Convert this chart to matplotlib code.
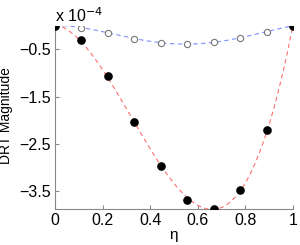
import numpy as np
import matplotlib
matplotlib.use("Agg")
import matplotlib.pyplot as plt

plt.rcParams['font.family'] = ['Liberation Sans', 'DejaVu Sans']

# values in units of 1e-4
eta = np.linspace(0, 1, 10)
drt_full = [0.0, -0.31, -1.07, -2.04, -2.97, -3.67, -3.88, -3.46, -2.21, 0.0]
drt_open = [0.0, -0.04, -0.15, -0.27, -0.36, -0.39, -0.35, -0.25, -0.13, 0.0]

x_ticks = [0, 0.2, 0.4, 0.6, 0.8, 1]
y_ticks = [-0.5, -1.5, -2.5, -3.5]

fig = plt.figure(figsize=(3.0, 2.45), dpi=100)
ax = fig.add_axes([0.183, 0.147, 0.794, 0.748])

# smooth fitted curves through the samples
xs = np.linspace(0, 1, 200)
fit_full = np.polyval(np.polyfit(eta, drt_full, 3), xs)
fit_open = np.polyval(np.polyfit(eta, drt_open, 4), xs)

ax.plot(xs, fit_open, '--', color='#7f8fff', lw=0.8, dashes=(4, 3), zorder=2)
ax.plot(xs, fit_full, '--', color='#ff7070', lw=0.8, dashes=(4, 3), zorder=2)
ax.plot(eta, drt_open, 'o', mfc='white', mec='#777777', mew=0.8, ms=4.5, zorder=3)
ax.plot(eta, drt_full, 'o', color='black', ms=5.2, zorder=4)

ax.set_xlim(0, 1)
ax.set_ylim(-3.87, 0)
ax.set_xticks(x_ticks)
ax.set_xticklabels(['0', '0.2', '0.4', '0.6', '0.8', '1'])
ax.set_yticks(y_ticks)
ax.set_yticklabels(['\u22120.5', '\u22121.5', '\u22122.5', '\u22123.5'])
ax.tick_params(direction='in', length=3, color='#888888', labelsize=11.5, pad=3)

for side in ['top', 'right']:
    ax.spines[side].set_visible(False)
for side in ['left', 'bottom']:
    ax.spines[side].set_color('#888888')
    ax.spines[side].set_linewidth(0.8)

for lab in ax.get_xticklabels() + ax.get_yticklabels():
    lab.set_clip_on(False)

ax.set_xlabel('\u03b7', fontsize=11, labelpad=0)
ax.set_ylabel('DRT Magnitude', fontsize=10)
ax.yaxis.set_label_coords(-0.178, 0.512)
ax.text(0.0, 1.005, 'x 10$^{-4}$', transform=ax.transAxes, fontsize=11.5,
        ha='left', va='bottom')

fig.savefig('out.png', dpi=100)
